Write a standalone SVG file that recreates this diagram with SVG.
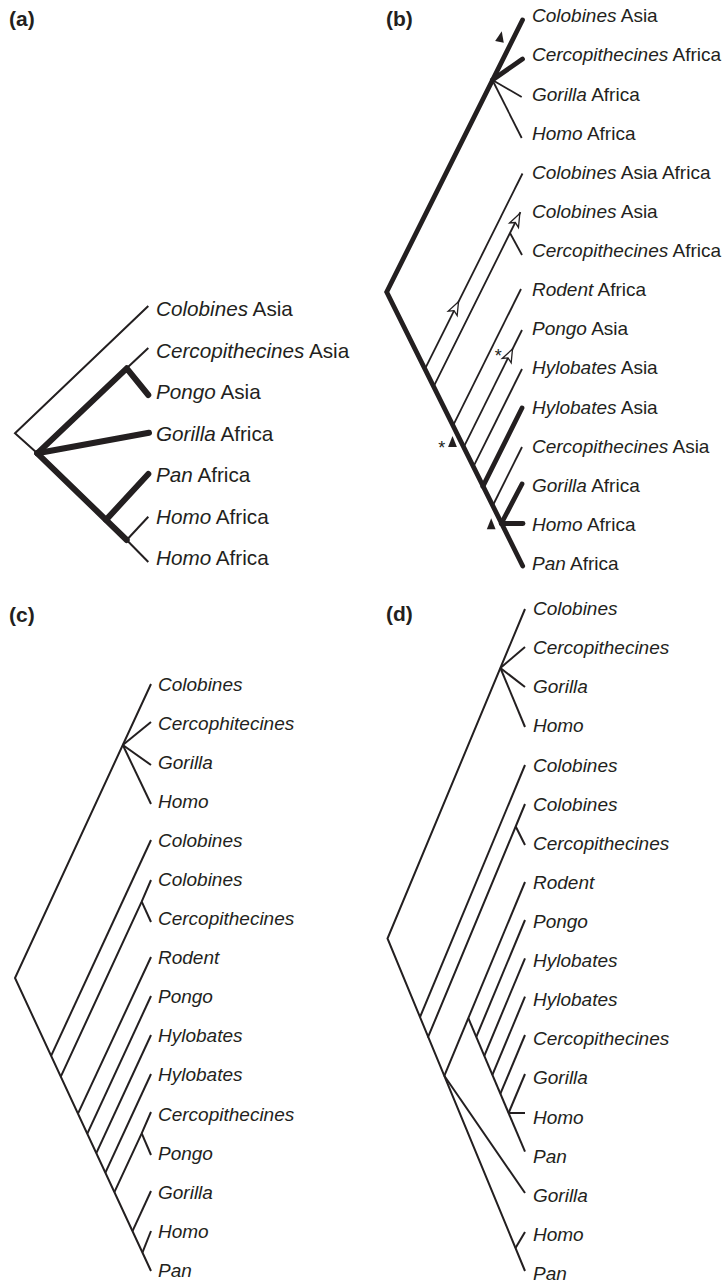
<svg xmlns="http://www.w3.org/2000/svg" width="722" height="1281" viewBox="0 0 722 1281">
<style>
text{font-family:"Liberation Sans",Arial,Helvetica,sans-serif;fill:#231f20}
.pl{font-size:21px;font-weight:bold}
.la{font-size:20.7px}
.lb{font-size:19px}
.i{font-style:italic}
.st{font-size:18px}
.thin{fill:none;stroke:#231f20;stroke-width:2;stroke-linecap:butt;stroke-linejoin:miter}
.thinb{fill:none;stroke:#231f20;stroke-width:1.8}
.thka{fill:none;stroke:#231f20;stroke-width:6;stroke-linecap:round;stroke-linejoin:round}
.thkb{fill:none;stroke:#231f20;stroke-width:4.8;stroke-linecap:round;stroke-linejoin:miter}
.fa{fill:#231f20;stroke:none}
.oa{fill:#fff;stroke:#231f20;stroke-width:1.3;stroke-linejoin:miter}
</style>
<defs>
<path id="openArrow" d="M0,0 L-13,-5 L-10,0 L-13,5 Z"/>
<path id="fillArrow" d="M0,-6 L4.4,5 L-4.4,5 Z"/>
</defs>

<g id="panel-labels">
<text class="pl" x="9" y="26">(a)</text>
<text class="pl" x="386" y="26">(b)</text>
<text class="pl" x="9" y="622">(c)</text>
<text class="pl" x="386" y="621">(d)</text>
</g>

<g id="connectors">
<g id="conn-a">
<path class="thin" d="M148.3,306 L15,433.3 L37.3,453.3"/>
<path class="thin" d="M126.7,368.3 L148.3,348"/>
<path class="thin" d="M126.7,540 L148.3,516.7"/>
<path class="thin" d="M126.7,540 L148.3,562"/>
<path class="thka" d="M37.3,453.3 L126.7,368.3 L148.3,395"/>
<path class="thka" d="M37.3,453.3 L149,432.7"/>
<path class="thka" d="M37.3,453.3 L126.7,540"/>
<path class="thka" d="M106,519.9 L148.3,474"/>
</g>
<g id="conn-b">
<path class="thkb" d="M522.5,20 L386.7,292 L522.7,566"/>
<path class="thkb" d="M492.4,80 L522.5,59"/>
<path class="thinb" d="M492.4,80 L521.7,97"/>
<path class="thinb" d="M492.4,80 L521.7,138"/>
<path class="thinb" d="M424.9,369.2 L522.5,173.5"/>
<path class="thinb" d="M433.6,386.7 L510,233 L520.4,212.2"/>
<path class="thinb" d="M510,233 L522,255"/>
<path class="thinb" d="M452.9,425.8 L521,289"/>
<path class="thinb" d="M463.6,447.3 L522,330"/>
<path class="thinb" d="M473.3,466.9 L522,369"/>
<path class="thkb" d="M482.9,486.4 L522,408"/>
<path class="thinb" d="M492.6,506 L522,447"/>
<path class="thkb" d="M501.3,523.5 L522,484"/>
<path class="thkb" d="M501.3,523.5 L523,523.5"/>
<use href="#openArrow" class="oa" transform="translate(458.5,301.7) rotate(-63.5)"/>
<use href="#openArrow" class="oa" transform="translate(519.8,213.6) rotate(-63.5)"/>
<use href="#openArrow" class="oa" transform="translate(512.5,349) rotate(-63.5)"/>
<use href="#fillArrow" class="fa" transform="translate(500.5,37) rotate(12)"/>
<use href="#fillArrow" class="fa" transform="translate(452.5,442)"/>
<use href="#fillArrow" class="fa" transform="translate(491.2,524.3)"/>
<text class="st" x="441.7" y="453.7" text-anchor="middle">*</text>
<text class="st" x="498.3" y="362" text-anchor="middle">*</text>
</g>
<g id="conn-c">
<path class="thin" d="M151,684 L15,978 L151,1271"/>
<path class="thin" d="M122.8,745 L151,722"/>
<path class="thin" d="M122.8,745 L151,765"/>
<path class="thin" d="M122.8,745 L151,804"/>
<path class="thin" d="M51.1,1055.8 L151,840"/>
<path class="thin" d="M60.8,1076.6 L141.7,901.7 L151,880"/>
<path class="thin" d="M141.7,901.7 L151,922"/>
<path class="thin" d="M78.2,1113.1 L151,957"/>
<path class="thin" d="M87.3,1133.7 L151,996"/>
<path class="thin" d="M96.3,1153.2 L151,1035"/>
<path class="thin" d="M105.4,1172.7 L151,1074"/>
<path class="thin" d="M114.4,1192.1 L141.7,1133.3 L151,1112"/>
<path class="thin" d="M141.7,1133.3 L151,1155"/>
<path class="thin" d="M132.5,1231.1 L151,1191"/>
<path class="thin" d="M142.5,1252.4 L151,1231"/>
</g>
<g id="conn-d">
<path class="thin" d="M525,609 L387.5,938.5 L525,1271"/>
<path class="thin" d="M500.4,668 L525,647"/>
<path class="thin" d="M500.4,668 L525,687"/>
<path class="thin" d="M500.4,668 L525,727"/>
<path class="thin" d="M420,1017.1 L525,765"/>
<path class="thin" d="M427.8,1037.7 L515.7,826.5 L525,804"/>
<path class="thin" d="M515.7,826.5 L525,845"/>
<path class="thin" d="M444.3,1075.8 L525,882"/>
<path class="thin" d="M444.3,1075.8 L525,1193"/>
<path class="thin" d="M468.3,1018.1 L525,1151.7"/>
<path class="thin" d="M476.3,1036.9 L525,920"/>
<path class="thin" d="M484.3,1055.8 L525,958.3"/>
<path class="thin" d="M492.4,1074.9 L525,996.7"/>
<path class="thin" d="M500.4,1093.7 L525,1035"/>
<path class="thin" d="M508.6,1113 L525,1074"/>
<path class="thin" d="M508.6,1113 L525,1113"/>
<path class="thin" d="M515.5,1248 L525,1232"/>
</g>
</g>

<g id="nodes-a">
<g id="a1"><text class="la" x="156" y="316"><tspan class="i">Colobines</tspan> Asia</text></g>
<g id="a2"><text class="la" x="156" y="357.5"><tspan class="i">Cercopithecines</tspan> Asia</text></g>
<g id="a3"><text class="la" x="156" y="399"><tspan class="i">Pongo</tspan> Asia</text></g>
<g id="a4"><text class="la" x="156" y="440.5"><tspan class="i">Gorilla</tspan> Africa</text></g>
<g id="a5"><text class="la" x="156" y="482"><tspan class="i">Pan</tspan> Africa</text></g>
<g id="a6"><text class="la" x="156" y="523.5"><tspan class="i">Homo</tspan> Africa</text></g>
<g id="a7"><text class="la" x="156" y="565"><tspan class="i">Homo</tspan> Africa</text></g>
</g>

<g id="nodes-b">
<g id="b1"><text class="lb" x="532" y="22.2"><tspan class="i">Colobines</tspan> Asia</text></g>
<g id="b2"><text class="lb" x="532" y="61.3"><tspan class="i">Cercopithecines</tspan> Africa</text></g>
<g id="b3"><text class="lb" x="532" y="100.5"><tspan class="i">Gorilla</tspan> Africa</text></g>
<g id="b4"><text class="lb" x="532" y="139.6"><tspan class="i">Homo</tspan> Africa</text></g>
<g id="b5"><text class="lb" x="532" y="178.7"><tspan class="i">Colobines</tspan> Asia Africa</text></g>
<g id="b6"><text class="lb" x="532" y="217.9"><tspan class="i">Colobines</tspan> Asia</text></g>
<g id="b7"><text class="lb" x="532" y="257"><tspan class="i">Cercopithecines</tspan> Africa</text></g>
<g id="b8"><text class="lb" x="532" y="296.1"><tspan class="i">Rodent</tspan> Africa</text></g>
<g id="b9"><text class="lb" x="532" y="335.2"><tspan class="i">Pongo</tspan> Asia</text></g>
<g id="b10"><text class="lb" x="532" y="374.4"><tspan class="i">Hylobates</tspan> Asia</text></g>
<g id="b11"><text class="lb" x="532" y="413.5"><tspan class="i">Hylobates</tspan> Asia</text></g>
<g id="b12"><text class="lb" x="532" y="452.6"><tspan class="i">Cercopithecines</tspan> Asia</text></g>
<g id="b13"><text class="lb" x="532" y="491.7"><tspan class="i">Gorilla</tspan> Africa</text></g>
<g id="b14"><text class="lb" x="532" y="530.9"><tspan class="i">Homo</tspan> Africa</text></g>
<g id="b15"><text class="lb" x="532" y="570"><tspan class="i">Pan</tspan> Africa</text></g>
</g>

<g id="nodes-c">
<g id="c1"><text class="lb i" x="158" y="690.7">Colobines</text></g>
<g id="c2"><text class="lb i" x="158" y="729.8">Cercophitecines</text></g>
<g id="c3"><text class="lb i" x="158" y="768.8">Gorilla</text></g>
<g id="c4"><text class="lb i" x="158" y="807.9">Homo</text></g>
<g id="c5"><text class="lb i" x="158" y="847">Colobines</text></g>
<g id="c6"><text class="lb i" x="158" y="886">Colobines</text></g>
<g id="c7"><text class="lb i" x="158" y="925.1">Cercopithecines</text></g>
<g id="c8"><text class="lb i" x="158" y="964.2">Rodent</text></g>
<g id="c9"><text class="lb i" x="158" y="1003.3">Pongo</text></g>
<g id="c10"><text class="lb i" x="158" y="1042.3">Hylobates</text></g>
<g id="c11"><text class="lb i" x="158" y="1081.4">Hylobates</text></g>
<g id="c12"><text class="lb i" x="158" y="1120.5">Cercopithecines</text></g>
<g id="c13"><text class="lb i" x="158" y="1159.5">Pongo</text></g>
<g id="c14"><text class="lb i" x="158" y="1198.6">Gorilla</text></g>
<g id="c15"><text class="lb i" x="158" y="1237.7">Homo</text></g>
<g id="c16"><text class="lb i" x="158" y="1276.7">Pan</text></g>
</g>

<g id="nodes-d">
<g id="d1"><text class="lb i" x="533" y="615">Colobines</text></g>
<g id="d2"><text class="lb i" x="533" y="654.1">Cercopithecines</text></g>
<g id="d3"><text class="lb i" x="533" y="693.2">Gorilla</text></g>
<g id="d4"><text class="lb i" x="533" y="732.4">Homo</text></g>
<g id="d5"><text class="lb i" x="533" y="771.5">Colobines</text></g>
<g id="d6"><text class="lb i" x="533" y="810.6">Colobines</text></g>
<g id="d7"><text class="lb i" x="533" y="849.7">Cercopithecines</text></g>
<g id="d8"><text class="lb i" x="533" y="888.8">Rodent</text></g>
<g id="d9"><text class="lb i" x="533" y="928">Pongo</text></g>
<g id="d10"><text class="lb i" x="533" y="967.1">Hylobates</text></g>
<g id="d11"><text class="lb i" x="533" y="1006.2">Hylobates</text></g>
<g id="d12"><text class="lb i" x="533" y="1045.3">Cercopithecines</text></g>
<g id="d13"><text class="lb i" x="533" y="1084.4">Gorilla</text></g>
<g id="d14"><text class="lb i" x="533" y="1123.6">Homo</text></g>
<g id="d15"><text class="lb i" x="533" y="1162.7">Pan</text></g>
<g id="d16"><text class="lb i" x="533" y="1201.8">Gorilla</text></g>
<g id="d17"><text class="lb i" x="533" y="1240.9">Homo</text></g>
<g id="d18"><text class="lb i" x="533" y="1279.5">Pan</text></g>
</g>
</svg>
